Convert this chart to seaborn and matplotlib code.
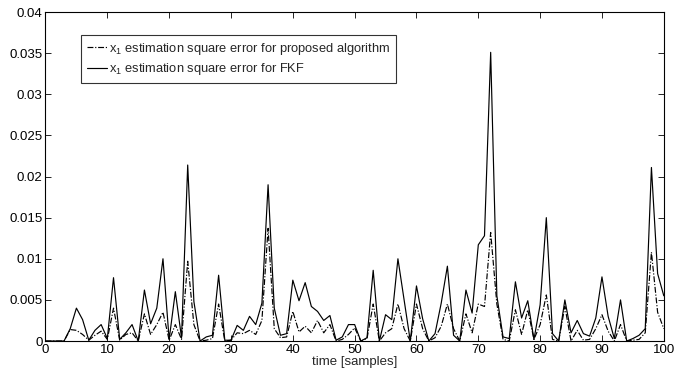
import numpy as np
import pandas as pd
import matplotlib
matplotlib.use("Agg")
import matplotlib.pyplot as plt
import seaborn as sns

samples = list(range(0, 101))
fkf_error = [
    0, 0, 0, 0, 0.0015, 0.004, 0.0026, 0.0001, 0.0013, 0.002,
    0.0003, 0.0077, 0.0002, 0.001, 0.002, 0, 0.0062, 0.0021, 0.004, 0.01,
    0.0002, 0.006, 0.0004, 0.0214, 0.0048, 0, 0.0005, 0.0007, 0.008, 0.0001,
    0.0001, 0.0019, 0.0013, 0.003, 0.002, 0.0046, 0.019, 0.004, 0.0007, 0.0009,
    0.0074, 0.0049, 0.0071, 0.0042, 0.0036, 0.0025, 0.0031, 0.0001, 0.0005, 0.002,
    0.002, 0, 0.0004, 0.0086, 0, 0.0032, 0.0026, 0.01, 0.005, 0,
    0.0067, 0.0027, 0, 0.0009, 0.0046, 0.0091, 0.0007, 0, 0.0062, 0.0034,
    0.0117, 0.0128, 0.0351, 0.0055, 0.0005, 0.0003, 0.0072, 0.0028, 0.0049, 0.0002,
    0.0044, 0.015, 0.0009, 0, 0.005, 0.001, 0.0025, 0.0009, 0.0006, 0.0028,
    0.0078, 0.003, 0.0003, 0.005, 0, 0.0003, 0.0007, 0.0015, 0.0211, 0.0082,
    0.0055,
]
proposed_error = [
    0, 0, 0, 0, 0.0014, 0.0013, 0.0008, 0.0001, 0.0007, 0.0012,
    0.0002, 0.004, 0.0001, 0.0008, 0.001, 0, 0.0033, 0.0008, 0.002, 0.0035,
    0.0001, 0.002, 0.0002, 0.0097, 0.002, 0, 0.0001, 0.0003, 0.0045, 0,
    0.0001, 0.001, 0.0009, 0.0013, 0.0008, 0.0025, 0.0137, 0.0015, 0.0004, 0.0005,
    0.0036, 0.0011, 0.0018, 0.001, 0.0025, 0.001, 0.002, 0, 0.0002, 0.0008,
    0.0016, 0, 0.0003, 0.0045, 0, 0.001, 0.0015, 0.0045, 0.0015, 0,
    0.0045, 0.0015, 0, 0.0004, 0.0018, 0.0045, 0.0015, 0, 0.0033, 0.001,
    0.0045, 0.0042, 0.0132, 0.0045, 0.0002, 0, 0.0038, 0.0008, 0.0038, 0.0002,
    0.002, 0.0056, 0.0002, 0, 0.0042, 0, 0.0013, 0.0001, 0.0002, 0.0015,
    0.0032, 0.0012, 0, 0.002, 0, 0.0001, 0.0002, 0.001, 0.0108, 0.0035,
    0.0015,
]

label_prop = r"$\mathregular{x_1}$ estimation square error for proposed algorithm"
label_fkf = r"$\mathregular{x_1}$ estimation square error for FKF"

df = pd.concat([
    pd.DataFrame({"t": samples, "err": proposed_error, "series": label_prop}),
    pd.DataFrame({"t": samples, "err": fkf_error, "series": label_fkf}),
])

sns.set_style("ticks")
plt.rcParams["font.family"] = ["Liberation Sans", "DejaVu Sans"]
plt.rcParams["mathtext.fontset"] = "custom"
plt.rcParams["mathtext.rm"] = "Liberation Sans"

fig = plt.figure(figsize=(6.75, 3.76), dpi=100)
ax = fig.add_axes([0.0674, 0.093, 0.916, 0.875])

sns.lineplot(data=df, x="t", y="err", hue="series", style="series",
             palette={label_prop: "black", label_fkf: "black"},
             dashes={label_prop: (5, 1.5, 1, 1.5), label_fkf: ""},
             linewidth=0.85, ax=ax, legend=True)

ax.set_xlim(0, 100)
ax.set_ylim(0, 0.04)
ax.set_xticks(np.arange(0, 101, 10))
ax.set_yticks(np.arange(0, 0.0401, 0.005))
ax.set_yticklabels([f"{v:g}" for v in np.round(np.arange(0, 0.0401, 0.005), 3)])
ax.tick_params(direction="in", top=True, right=True, length=4, width=0.6,
               labelsize=9.5, colors="black", pad=2)
for s in ax.spines.values():
    s.set_linewidth(0.8)
    s.set_color("black")
ax.set_xlabel("time [samples]", fontsize=9.5, labelpad=0)
ax.set_ylabel("")

leg = ax.legend(loc="upper left", bbox_to_anchor=(0.057, 0.93), fontsize=9.3,
                frameon=True, fancybox=False, edgecolor="black",
                handlelength=1.6, handletextpad=0.15, borderpad=0.45,
                labelspacing=0.35, borderaxespad=0)
leg.get_frame().set_linewidth(0.8)

fig.savefig("out.png", dpi=100)
